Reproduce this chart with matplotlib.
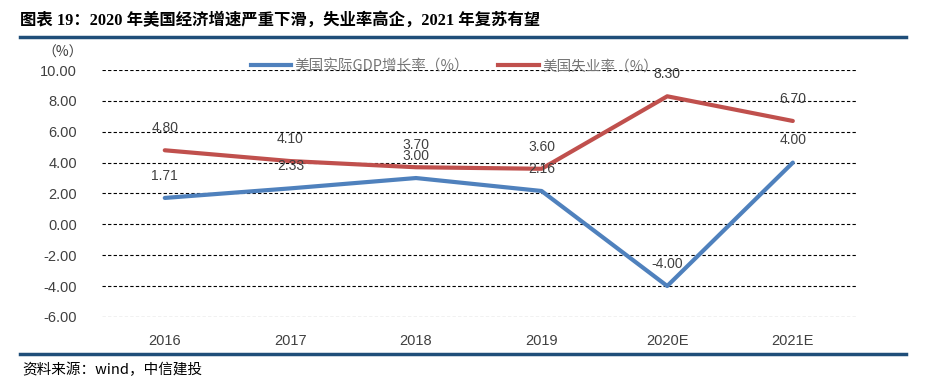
import matplotlib
matplotlib.use('Agg')
import matplotlib.pyplot as plt
from matplotlib.lines import Line2D

plt.rcParams['font.family'] = ['Noto Sans CJK SC', 'DejaVu Sans']

# data
years = ['2016', '2017', '2018', '2019', '2020E', '2021E']
gdp_growth = [1.71, 2.33, 3.00, 2.16, -4.00, 4.00]
unemployment = [4.80, 4.10, 3.70, 3.60, 8.30, 6.70]
yticks = [10, 8, 6, 4, 2, 0, -2, -4, -6]

blue = '#4F81BD'
red = '#C0504D'
txt = '#404040'
num_font = ['Liberation Sans', 'DejaVu Sans']

fig = plt.figure(figsize=(9.27, 3.85), dpi=100)
ax = fig.add_axes([0.110, 0.177, 0.813, 0.641])

x = list(range(len(years)))
ax.plot(x, gdp_growth, color=blue, lw=3, solid_capstyle='round')
ax.plot(x, unemployment, color=red, lw=3, solid_capstyle='round')

# data labels (3.70 / 3.00 overlap in the source too)
for i in x:
    ax.annotate('%.2f' % gdp_growth[i], (i, gdp_growth[i]), xytext=(0, 16),
                textcoords='offset points', ha='center', va='center',
                fontsize=10, color=txt, family=num_font)
    ax.annotate('%.2f' % unemployment[i], (i, unemployment[i]), xytext=(0, 16),
                textcoords='offset points', ha='center', va='center',
                fontsize=10, color=txt, family=num_font)

ax.set_xlim(-0.5, len(years) - 0.5)
ax.set_ylim(-6, 10)
ax.set_yticks(yticks)
ax.set_yticklabels(['%.2f' % v for v in yticks], family=num_font)
ax.set_xticks(x)
ax.set_xticklabels(years, family=num_font)
ax.tick_params(axis='both', length=0, labelsize=10.5, colors=txt)
ax.tick_params(axis='x', pad=12)
ax.tick_params(axis='y', pad=18)
ax.yaxis.grid(True, linestyle=(0, (3, 2)), color='black', lw=0.8)
ax.set_axisbelow(True)
for s in ax.spines.values():
    s.set_visible(False)

fig.text(0.068, 0.862, '（%）', fontsize=10, color=txt, ha='center', va='center')

handles = [Line2D([], [], color=blue, lw=3), Line2D([], [], color=red, lw=3)]
leg = fig.legend(handles, ['美国实际GDP增长率（%）', '美国失业率（%）'],
                 loc='center', bbox_to_anchor=(0.49, 0.828), ncol=2, frameon=False,
                 fontsize=10.5, handlelength=2.8, columnspacing=2.0, handletextpad=0.2)
for t in leg.get_texts():
    t.set_color('#767676')

# title and rules
fig.text(0.022, 0.948, '图表 19：2020 年美国经济增速严重下滑，失业率高企，2021 年复苏有望',
         fontsize=11.8, fontweight='bold', ha='left', va='center',
         family=['Liberation Serif', 'Noto Sans CJK SC'])
fig.add_artist(Line2D([0.022, 0.977], [0.903, 0.903], color='#1F4E79', lw=2.5))
fig.add_artist(Line2D([0.022, 0.977], [0.081, 0.081], color='#1F4E79', lw=2.5))
fig.text(0.024, 0.040, '资料来源：wind，中信建投', fontsize=10.5, style='italic',
         ha='left', va='center', family=['Noto Sans CJK SC', 'Liberation Serif'])

fig.savefig('out.png', dpi=100)
